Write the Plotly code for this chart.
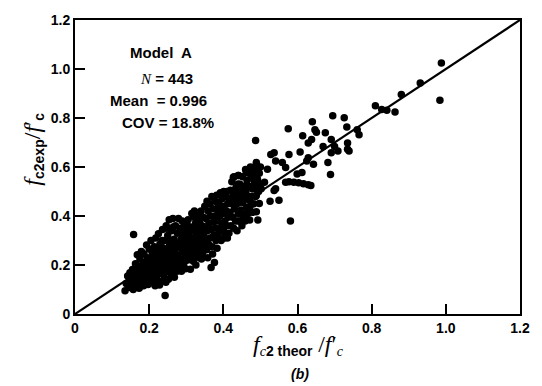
import plotly.graph_objects as go

# ---- data ----
x_cluster = [
    0.135,0.138,0.142,0.145,0.148,0.150,0.152,0.155,0.157,0.158,0.160,0.162,0.163,0.165,0.166,0.168,0.170,0.171,0.173,0.175,
    0.176,0.178,0.179,0.180,0.182,0.183,0.185,0.186,0.188,0.190,0.191,0.193,0.194,0.196,0.197,0.199,0.200,0.200,0.176,0.165,
    0.202,0.204,0.205,0.207,0.208,0.210,0.211,0.213,0.214,0.215,0.217,0.218,0.219,0.220,0.222,0.223,0.225,0.226,0.227,0.229,
    0.230,0.231,0.233,0.234,0.236,0.237,0.238,0.240,0.241,0.242,0.243,0.244,0.246,0.247,0.248,0.250,0.251,0.252,0.254,0.255,
    0.256,0.258,0.259,0.260,0.262,0.263,0.264,0.266,0.267,0.268,0.270,0.271,0.272,0.274,0.275,0.276,0.278,0.279,0.280,0.216,
    0.228,0.235,0.245,0.257,0.265,0.248,
    0.282,0.283,0.285,0.286,0.287,0.289,0.290,0.291,0.293,0.294,0.295,0.297,0.298,0.300,0.301,0.302,0.304,0.305,0.306,0.308,
    0.309,0.311,0.312,0.313,0.315,0.316,0.317,0.319,0.320,0.321,0.323,0.324,0.325,0.327,0.328,0.329,0.331,0.332,0.333,0.335,
    0.336,0.338,0.339,0.340,0.342,0.343,0.344,0.346,0.347,0.348,0.350,0.350,0.296,0.318,0.326,0.337,0.341,0.345,0.303,0.322,
    0.352,0.353,0.355,0.356,0.357,0.359,0.360,0.361,0.363,0.364,0.365,0.367,0.368,0.369,0.370,0.372,0.373,0.374,0.376,0.377,
    0.378,0.380,0.381,0.382,0.384,0.385,0.386,0.388,0.389,0.390,0.392,0.393,0.394,0.396,0.397,0.398,0.400,0.401,0.402,0.404,
    0.405,0.406,0.408,0.409,0.410,0.412,0.413,0.415,0.416,0.418,0.419,0.420,0.371,0.383,0.395,0.403,0.358,0.387,0.411,
    0.422,0.423,0.425,0.426,0.428,0.429,0.430,0.432,0.433,0.434,0.436,0.437,0.438,0.440,0.441,0.442,0.444,0.445,0.446,0.448,
    0.449,0.450,0.452,0.453,0.454,0.456,0.457,0.459,0.460,0.461,0.463,0.464,0.466,0.467,0.469,0.470,0.472,0.473,0.475,0.476,
    0.478,0.479,0.481,0.482,0.484,0.486,0.487,0.489,0.490,0.492,0.494,0.495,0.497,0.499,0.500,
]
y_cluster = [
    0.095,0.125,0.155,0.108,0.168,0.140,0.120,0.182,0.100,0.324,0.150,0.128,0.205,0.168,0.112,0.242,0.140,0.188,0.105,0.225,
    0.160,0.125,0.255,0.198,0.145,0.175,0.115,0.245,0.212,0.135,0.165,0.282,0.190,0.230,0.120,0.150,0.265,0.205,0.240,0.135,
    0.178,0.138,0.300,0.222,0.250,0.160,0.195,0.125,0.275,0.235,0.175,0.310,0.210,0.148,0.260,0.190,0.328,0.228,0.165,0.285,
    0.205,0.132,0.245,0.180,0.345,0.270,0.215,0.155,0.300,0.238,0.076,0.195,0.360,0.258,0.175,0.320,0.222,0.142,0.385,0.282,
    0.205,0.245,0.165,0.340,0.268,0.190,0.390,0.228,0.305,0.150,0.255,0.360,0.210,0.288,0.175,0.330,0.238,0.390,0.198,0.115,
    0.118,0.300,0.130,0.300,0.355,0.350,
    0.272,0.350,0.222,0.305,0.175,0.380,0.255,0.325,0.205,0.290,0.365,0.240,0.185,0.340,0.270,0.310,0.220,0.385,0.258,0.330,
    0.292,0.183,0.355,0.240,0.410,0.310,0.275,0.215,0.345,0.395,0.260,0.300,0.370,0.232,0.330,0.285,0.405,0.350,0.255,0.310,
    0.380,0.270,0.335,0.420,0.295,0.360,0.245,0.395,0.325,0.280,0.440,0.350,0.215,0.250,0.200,0.230,0.225,0.265,0.360,0.420,
    0.305,0.390,0.262,0.460,0.340,0.420,0.285,0.370,0.450,0.310,0.400,0.190,0.345,0.480,0.275,0.430,0.375,0.320,0.210,0.460,
    0.400,0.300,0.350,0.485,0.425,0.380,0.325,0.455,0.400,0.340,0.495,0.430,0.300,0.370,0.470,0.410,0.345,0.500,0.440,0.380,
    0.320,0.480,0.420,0.360,0.500,0.450,0.395,0.330,0.470,0.415,0.505,0.360,0.245,0.268,0.350,0.310,0.230,0.440,0.310,
    0.450,0.540,0.395,0.490,0.350,0.560,0.430,0.475,0.380,0.515,0.455,0.340,0.500,0.410,0.565,0.460,0.380,0.530,0.480,0.425,
    0.500,0.360,0.560,0.455,0.400,0.520,0.470,0.380,0.590,0.500,0.435,0.545,0.410,0.480,0.575,0.520,0.440,0.600,0.480,0.555,
    0.415,0.510,0.590,0.450,0.535,0.570,0.480,0.610,0.520,0.550,0.600,0.500,0.575,0.530,0.600,
]
x_outer = [
    0.988,0.984,0.931,0.880,0.810,0.827,0.841,0.863,0.761,0.766,0.733,0.726,0.695,0.640,0.647,0.651,0.675,0.614,0.575,0.487,
    0.577,0.607,0.629,0.638,0.691,0.700,0.709,0.735,0.735,0.739,0.669,0.682,0.689,0.691,0.629,0.643,0.625,0.612,0.599,
    0.568,0.577,0.590,0.603,0.616,0.629,0.636,
    0.581,0.550,0.526,0.497,0.493,0.471,0.489,0.462,0.440,0.541,0.528,0.537,0.559,0.568,0.541,0.537,0.519,0.511,0.489,0.493,
    0.480,0.462,0.440,0.440,0.427,0.502,0.489,0.471,0.453,
]
y_outer = [
    1.025,0.872,0.943,0.896,0.850,0.835,0.832,0.825,0.752,0.732,0.763,0.801,0.809,0.785,0.752,0.742,0.740,0.728,0.756,0.708,
    0.651,0.661,0.698,0.712,0.712,0.684,0.665,0.698,0.672,0.665,0.684,0.618,0.569,0.658,0.638,0.611,0.625,0.578,0.571,
    0.538,0.540,0.538,0.536,0.532,0.528,0.525,
    0.380,0.464,0.460,0.451,0.384,0.384,0.417,0.407,0.380,0.625,0.651,0.658,0.618,0.598,0.511,0.504,0.591,0.538,0.618,0.591,
    0.565,0.578,0.565,0.531,0.558,0.511,0.484,0.464,0.484,
]
x_pts = x_cluster + x_outer
y_pts = y_cluster + y_outer

line_x = [0.0, 1.2]
line_y = [0.0, 1.2]

tick_vals = [0, 0.2, 0.4, 0.6, 0.8, 1.0, 1.2]
tick_text = ["0", "0.2", "0.4", "0.6", "0.8", "1.0", "1.2"]

fig = go.Figure()
fig.add_trace(go.Scatter(x=line_x, y=line_y, mode="lines",
                         line=dict(color="black", width=2.2), hoverinfo="skip"))
fig.add_trace(go.Scatter(x=x_pts, y=y_pts, mode="markers",
                         marker=dict(color="black", size=7.5, line=dict(width=0))))

sans = "Liberation Sans, Arial, sans-serif"
serif = "Liberation Serif"
axis_common = dict(
    range=[0, 1.2], tickvals=tick_vals, ticktext=tick_text,
    ticks="inside", ticklen=10, tickwidth=2, tickcolor="black",
    showline=True, linecolor="black", linewidth=2, mirror=True,
    showgrid=False, zeroline=False,
    tickfont=dict(family=sans, size=14, color="black", weight="bold"),
)
fig.update_xaxes(**axis_common)
fig.update_yaxes(**axis_common)

fig.update_layout(
    width=542, height=386,
    margin=dict(l=75, r=13, t=15, b=72),
    paper_bgcolor="white", plot_bgcolor="white",
    showlegend=False,
    font=dict(family=sans, color="black"),
)

F = f"<span style='font-family:{serif};font-size:24px'><i>f</i></span>"
C = f"<span style='font-family:{serif}'><i>c</i></span>"
SL = f"<span style='font-family:{serif};font-size:24px'>/<i>f</i>′</span>"

xtitle = f"{F}<sub>{C}<b>2 theor</b></sub> {SL}<sub>{C}</sub>"
fig.add_annotation(x=(303 - 75) / 454, y=-(329 - 314) / 299, xref="paper", yref="paper",
                   yanchor="top", text=xtitle, showarrow=False,
                   font=dict(family=sans, size=20, color="black"))
fig.add_annotation(x=(305 - 75) / 454, y=-(375 - 314) / 299, xref="paper", yref="paper",
                   yanchor="middle", text="<b><i>(b)</i></b>", showarrow=False,
                   font=dict(family=sans, size=14, color="black"))

ytitle = f"{F}<sub><b>c2exp</b></sub>{SL}<sub><b>c</b></sub>"
fig.add_annotation(x=(32 - 75) / 454, y=1 - (146 - 15) / 299, xref="paper", yref="paper",
                   xanchor="center", yanchor="middle", textangle=-90,
                   text=ytitle, showarrow=False,
                   font=dict(family=sans, size=20, color="black"))

# statistics text
stats = [
    ("<b>Model  A</b>", 196, 48),
    (f"<span style='font-family:{serif}'><i>N</i></span><b> = 443</b>", 197, 74),
    ("<b>Mean  = 0.996</b>", 212, 97),
    ("<b>COV = 18.8%</b>", 219, 119),
]
for txt, px, py in stats:
    fig.add_annotation(x=(px - 75) / 454, y=1 - (py - 15) / 299,
                       xref="paper", yref="paper", xanchor="right", yanchor="middle",
                       text=txt, showarrow=False,
                       font=dict(family=sans, size=15, color="black"))

fig.write_html("out.html")
